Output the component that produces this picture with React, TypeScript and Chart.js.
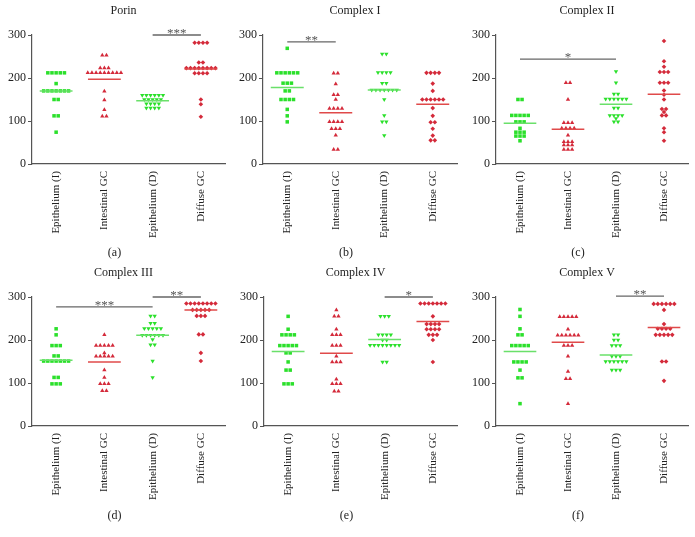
import React, { useEffect, useRef } from 'react';
import { Chart, registerables } from 'chart.js';
Chart.register(...registerables);

const categories = ['Epithelium (I)', 'Intestinal GC', 'Epithelium (D)', 'Diffuse GC'];
const yTickValues = [0, 100, 200, 300];

// (a) Porin
const porinEpiI = [212, 212, 212, 212, 212, 187, 170, 170, 170, 170, 170, 170, 170, 150, 150, 112, 112, 74];
const porinIntGC = [253, 253, 223, 223, 223, 212, 212, 212, 212, 212, 212, 212, 212, 212, 169, 149, 126, 111, 111];
const porinEpiD = [160, 160, 160, 160, 160, 160, 150, 150, 150, 150, 150, 140, 140, 140, 140, 130, 130, 130, 130];
const porinDiffGC = [282, 282, 282, 282, 236, 236, 223, 223, 223, 223, 223, 223, 223, 223, 211, 211, 211, 211, 150, 139, 110];
const porinLines = [170, 197, 147, 221];
const porinSig = [{ from: 2, to: 3, y: 300, label: '***' }];

// (b) Complex I
const c1EpiI = [269, 212, 212, 212, 212, 212, 212, 188, 188, 188, 170, 170, 150, 150, 150, 150, 127, 112, 98];
const c1IntGC = [211, 211, 186, 161, 161, 150, 129, 129, 129, 129, 98, 98, 98, 98, 82, 82, 82, 67, 34, 34];
const c1EpiD = [256, 256, 213, 213, 213, 213, 188, 188, 172, 172, 172, 172, 172, 172, 172, 150, 113, 98, 98, 66];
const c1DiffGC = [212, 212, 212, 212, 187, 170, 150, 150, 150, 150, 150, 150, 130, 112, 97, 97, 82, 66, 55, 55];
const c1Lines = [178, 119, 172, 139];
const c1Sig = [{ from: 0, to: 1, y: 284, label: '**' }];

// (c) Complex II
const c2EpiI = [150, 150, 113, 113, 113, 113, 113, 98, 98, 98, 83, 74, 74, 74, 65, 65, 65, 54];
const c2IntGC = [189, 189, 150, 96, 96, 96, 83, 83, 83, 83, 67, 52, 52, 52, 44, 44, 44, 34, 34, 34];
const c2EpiD = [215, 189, 163, 163, 151, 151, 151, 151, 151, 151, 130, 130, 113, 113, 113, 113, 106, 98, 98];
const c2DiffGC = [286, 239, 226, 214, 214, 214, 189, 189, 189, 171, 161, 150, 128, 128, 121, 113, 113, 83, 74, 54];
const c2Lines = [95, 81, 139, 162];
const c2Sig = [{ from: 0, to: 2, y: 244, label: '*' }];

// (d) Complex III
const c3EpiI = [226, 212, 187, 187, 187, 163, 163, 151, 151, 151, 151, 151, 151, 151, 113, 113, 98, 98, 98];
const c3IntGC = [212, 187, 187, 187, 187, 187, 170, 162, 162, 162, 162, 162, 130, 113, 98, 98, 98, 82, 82];
const c3EpiD = [256, 256, 239, 239, 227, 227, 227, 227, 227, 211, 211, 211, 211, 211, 211, 201, 189, 189, 151, 113];
const c3DiffGC = [285, 285, 285, 285, 285, 285, 285, 285, 270, 270, 270, 270, 270, 256, 256, 256, 213, 213, 170, 151];
const c3Lines = [153, 149, 211, 270];
const c3Sig = [
  { from: 0, to: 2, y: 277, label: '***' },
  { from: 2, to: 3, y: 300, label: '**' },
];

// (e) Complex IV
const c4EpiI = [255, 225, 212, 212, 212, 212, 187, 187, 187, 187, 187, 170, 170, 149, 130, 130, 98, 98, 98];
const c4IntGC = [270, 255, 255, 225, 212, 212, 212, 187, 187, 187, 162, 149, 149, 149, 109, 98, 98, 98, 81, 81];
const c4EpiD = [255, 255, 255, 212, 212, 212, 212, 200, 200, 188, 188, 188, 188, 188, 188, 188, 188, 149, 149];
const c4DiffGC = [285, 285, 285, 285, 285, 285, 285, 255, 237, 237, 237, 237, 225, 225, 225, 225, 212, 212, 212, 200, 149];
const c4Lines = [173, 169, 201, 243];
const c4Sig = [{ from: 2, to: 3, y: 300, label: '*' }];

// (f) Complex V
const c5EpiI = [271, 255, 226, 212, 212, 187, 187, 187, 187, 187, 149, 149, 149, 149, 130, 112, 112, 52];
const c5IntGC = [254, 254, 254, 254, 254, 225, 211, 211, 211, 211, 211, 211, 187, 187, 187, 162, 127, 110, 110, 52];
const c5EpiD = [212, 212, 200, 200, 187, 187, 187, 162, 162, 162, 150, 150, 150, 150, 150, 150, 130, 130, 130];
const c5DiffGC = [284, 284, 284, 284, 284, 284, 270, 237, 226, 226, 226, 226, 212, 212, 212, 212, 212, 150, 150, 105];
const c5Lines = [173, 195, 165, 229];
const c5Sig = [{ from: 2, to: 3, y: 302, label: '**' }];

const GREEN = '#2be02b';
const RED = '#d42a3a';
const GREEN_LINE = '#6ae06a';
const RED_LINE = '#e04a4a';
const AXIS = '#555555';
const FONT = "'Liberation Serif', 'Times New Roman', serif";
const DX = 0.086;

const markerStyles = [
  { pointStyle: 'rect', rotation: 0, color: GREEN, radius: 2.5, line: GREEN_LINE },
  { pointStyle: 'triangle', rotation: 0, color: RED, radius: 2.5, line: RED_LINE },
  { pointStyle: 'triangle', rotation: 180, color: GREEN, radius: 2.5, line: GREEN_LINE },
  { pointStyle: 'rectRot', rotation: 0, color: RED, radius: 2.3, line: RED_LINE },
];

type Sig = { from: number; to: number; y: number; label: string };
type PanelDef = {
  title: string;
  letter: string;
  series: number[][];
  lines: number[];
  sig: Sig[];
  left: number;
  top: number;
  width: number;
  height: number;
  yAxisW: number;
  padRight: number;
  padBottom: number;
  letterY: number;
};

const panels: PanelDef[] = [
  { title: 'Porin', letter: '(a)', series: [porinEpiI, porinIntGC, porinEpiD, porinDiffGC], lines: porinLines, sig: porinSig,
    left: 0, top: 0, width: 232, height: 262, yAxisW: 32, padRight: 7, padBottom: 18, letterY: 253 },
  { title: 'Complex I', letter: '(b)', series: [c1EpiI, c1IntGC, c1EpiD, c1DiffGC], lines: c1Lines, sig: c1Sig,
    left: 232, top: 0, width: 231, height: 262, yAxisW: 31, padRight: 6, padBottom: 18, letterY: 253 },
  { title: 'Complex II', letter: '(c)', series: [c2EpiI, c2IntGC, c2EpiD, c2DiffGC], lines: c2Lines, sig: c2Sig,
    left: 463, top: 0, width: 232, height: 262, yAxisW: 33, padRight: 7, padBottom: 18, letterY: 253 },
  { title: 'Complex III', letter: '(d)', series: [c3EpiI, c3IntGC, c3EpiD, c3DiffGC], lines: c3Lines, sig: c3Sig,
    left: 0, top: 262, width: 232, height: 275, yAxisW: 32, padRight: 7, padBottom: 31, letterY: 254 },
  { title: 'Complex IV', letter: '(e)', series: [c4EpiI, c4IntGC, c4EpiD, c4DiffGC], lines: c4Lines, sig: c4Sig,
    left: 232, top: 262, width: 231, height: 275, yAxisW: 32, padRight: 6, padBottom: 31, letterY: 254 },
  { title: 'Complex V', letter: '(f)', series: [c5EpiI, c5IntGC, c5EpiD, c5DiffGC], lines: c5Lines, sig: c5Sig,
    left: 463, top: 262, width: 232, height: 275, yAxisW: 33, padRight: 7, padBottom: 31, letterY: 254 },
];

function spread(values: number[], cat: number) {
  const counts = new Map<number, number>();
  values.forEach((v) => counts.set(v, (counts.get(v) || 0) + 1));
  const seen = new Map<number, number>();
  return values.map((v) => {
    const n = counts.get(v) || 1;
    const k = seen.get(v) || 0;
    seen.set(v, k + 1);
    return { x: cat + (k - (n - 1) / 2) * DX, y: v };
  });
}

function PanelChart({ def }: { def: PanelDef }) {
  const ref = useRef<HTMLCanvasElement | null>(null);
  useEffect(() => {
    if (!ref.current) return;
    const datasets: any[] = [];
    def.series.forEach((vals, i) => {
      const st = markerStyles[i];
      datasets.push({
        type: 'scatter',
        data: spread(vals, i),
        pointStyle: st.pointStyle,
        rotation: st.rotation,
        pointRadius: st.radius,
        backgroundColor: st.color,
        borderColor: st.color,
        borderWidth: 0,
        order: 2,
      });
    });
    def.lines.forEach((m, i) => {
      datasets.push({
        type: 'line',
        data: [{ x: i - 0.34, y: m }, { x: i + 0.34, y: m }],
        borderColor: markerStyles[i].line,
        borderWidth: 1.5,
        pointRadius: 0,
        showLine: true,
        fill: false,
        order: 1,
      });
    });
    const annot = {
      id: 'annot',
      afterDraw(chart: any) {
        const { ctx, chartArea, scales } = chart;
        const cx = (chartArea.left + chartArea.right) / 2;
        ctx.save();
        ctx.fillStyle = '#222';
        ctx.font = `12px ${FONT}`;
        ctx.textAlign = 'center';
        ctx.textBaseline = 'middle';
        ctx.fillText(def.title, cx - 5, 11);
        ctx.fillText(def.letter, cx - 14, def.letterY);
        def.sig.forEach((s) => {
          const x1 = scales.x.getPixelForValue(s.from);
          const x2 = scales.x.getPixelForValue(s.to);
          const y = scales.y.getPixelForValue(s.y);
          ctx.strokeStyle = '#666';
          ctx.lineWidth = 1.3;
          ctx.beginPath();
          ctx.moveTo(x1, y);
          ctx.lineTo(x2, y);
          ctx.stroke();
          ctx.fillStyle = '#555';
          ctx.font = `13px ${FONT}`;
          ctx.textBaseline = 'alphabetic';
          ctx.fillText(s.label, (x1 + x2) / 2, y + 2);
        });
        ctx.restore();
      },
    };
    const chart = new Chart(ref.current, {
      type: 'scatter',
      data: { datasets },
      options: {
        animation: false,
        responsive: false,
        maintainAspectRatio: false,
        layout: { padding: { left: 0, right: def.padRight, top: 35, bottom: def.padBottom } },
        plugins: { legend: { display: false }, tooltip: { enabled: false }, title: { display: false } },
        scales: {
          x: {
            type: 'linear',
            min: -0.5,
            max: 3.5,
            afterBuildTicks: (s: any) => {
              s.ticks = categories.map((_, i) => ({ value: i }));
            },
            afterFit: (s: any) => {
              s.height = 80;
            },
            ticks: {
              callback: (v: any) => categories[Math.round(Number(v))],
              minRotation: 90,
              maxRotation: 90,
              autoSkip: false,
              padding: 7,
              color: '#222',
              font: { family: FONT, size: 11 },
            },
            grid: { display: false, drawTicks: false },
            border: { display: true, color: AXIS, width: 1.2 },
          },
          y: {
            min: 0,
            max: 300,
            afterBuildTicks: (s: any) => {
              s.ticks = yTickValues.map((v) => ({ value: v }));
            },
            afterFit: (s: any) => {
              s.width = def.yAxisW;
            },
            ticks: { color: '#222', padding: 2, font: { family: FONT, size: 12 } },
            grid: { display: true, drawOnChartArea: false, drawTicks: true, tickLength: 4, color: AXIS },
            border: { display: true, color: AXIS, width: 1.2 },
          },
        },
      } as any,
      plugins: [annot],
    } as any);
    return () => chart.destroy();
  }, [def]);
  return (
    <canvas
      ref={ref}
      width={def.width}
      height={def.height}
      style={{ position: 'absolute', left: def.left, top: def.top, width: def.width, height: def.height }}
    />
  );
}

export default function App() {
  return (
    <div style={{ position: 'fixed', left: 0, top: 0, width: 695, height: 537, background: '#ffffff', overflow: 'hidden' }}>
      {panels.map((p) => (
        <PanelChart key={p.letter} def={p} />
      ))}
    </div>
  );
}
